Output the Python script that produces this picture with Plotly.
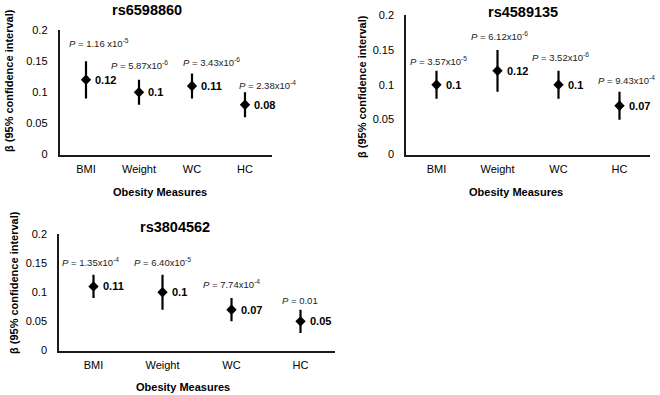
import plotly.graph_objects as go

# ---------------- data ----------------
categories = ["BMI", "Weight", "WC", "HC"]
snps = ["rs6598860", "rs4589135", "rs3804562"]

beta_rs6598860 = [0.12, 0.10, 0.11, 0.08]
lower_rs6598860 = [0.09, 0.08, 0.09, 0.06]
upper_rs6598860 = [0.15, 0.12, 0.13, 0.10]
p_rs6598860 = ["1.16 x10<sup>-5</sup>", "5.87x10<sup>-6</sup>", "3.43x10<sup>-6</sup>", "2.38x10<sup>-4</sup>"]

beta_rs4589135 = [0.10, 0.12, 0.10, 0.07]
lower_rs4589135 = [0.08, 0.09, 0.08, 0.05]
upper_rs4589135 = [0.12, 0.15, 0.12, 0.09]
p_rs4589135 = ["3.57x10<sup>-5</sup>", "6.12x10<sup>-6</sup>", "3.52x10<sup>-6</sup>", "9.43x10<sup>-4</sup>"]

beta_rs3804562 = [0.11, 0.10, 0.07, 0.05]
lower_rs3804562 = [0.09, 0.07, 0.05, 0.03]
upper_rs3804562 = [0.13, 0.13, 0.09, 0.07]
p_rs3804562 = ["1.35x10<sup>-4</sup>", "6.40x10<sup>-5</sup>", "7.74x10<sup>-4</sup>", "0.01"]

y_ticks = [0, 0.05, 0.1, 0.15, 0.2]

# ---------------- layout (positions / styles) ----------------
W, H = 660, 395
FONT = "Liberation Sans, Arial, sans-serif"

panels = [
    dict(snp=snps[0], beta=beta_rs6598860, lo=lower_rs6598860, hi=upper_rs6598860, p=p_rs6598860,
         xpx=(59.5, 271.5), ypx=(154.5, 30),
         ppos=[(0.25, 0.179), (1.0, 0.1435), (2.36, 0.148), (3.42, 0.111)],
         title=(147, 10), xtitle=(160, 192), ytitle=(9, 81)),
    dict(snp=snps[1], beta=beta_rs4589135, lo=lower_rs4589135, hi=upper_rs4589135, p=p_rs4589135,
         xpx=(406, 650), ypx=(154.5, 15),
         ppos=[(0.04, 0.134), (1.03, 0.170), (2.03, 0.140), (3.11, 0.107)],
         title=(523, 12), xtitle=(516, 192), ytitle=(362, 87)),
    dict(snp=snps[2], beta=beta_rs3804562, lo=lower_rs3804562, hi=upper_rs3804562, p=p_rs3804562,
         xpx=(59, 335), ypx=(350.5, 234),
         ppos=[(-0.04, 0.152), (1.0, 0.152), (2.0, 0.114), (2.99, 0.085)],
         title=(175, 227), xtitle=(183, 387), ytitle=(14, 283)),
]

fig = go.Figure()
annotations = []
layout_axes = {}

for i, pn in enumerate(panels):
    k = "" if i == 0 else str(i + 1)
    xa, ya = "x" + k, "y" + k
    err_plus = [h - b for h, b in zip(pn["hi"], pn["beta"])]
    err_minus = [b - l for b, l in zip(pn["beta"], pn["lo"])]
    fig.add_trace(go.Scatter(
        x=categories, y=pn["beta"], mode="markers",
        marker=dict(symbol="diamond", size=8, color="black"),
        error_y=dict(type="data", symmetric=False, array=err_plus, arrayminus=err_minus,
                     color="black", thickness=2.2, width=0),
        xaxis=xa, yaxis=ya, showlegend=False, cliponaxis=False,
    ))
    x0, x1 = pn["xpx"]
    yb, yt = pn["ypx"]
    axis_common = dict(showline=True, linecolor="#1a1a1a", linewidth=1.5, showgrid=False,
                       zeroline=False, ticks="", automargin=False,
                       tickfont=dict(family=FONT, size=11, color="black"))
    layout_axes["xaxis" + k] = dict(domain=[x0 / W, x1 / W], anchor=ya, type="category",
                                   categoryorder="array", categoryarray=categories,
                                   range=[-0.5, 3.5], ticklabelstandoff=4, **axis_common)
    layout_axes["yaxis" + k] = dict(domain=[1 - yb / H, 1 - yt / H], anchor=xa, range=[0, 0.2],
                                   tickvals=y_ticks, ticktext=[f"{v:g}" for v in y_ticks],
                                   ticklabelstandoff=8, **axis_common)
    # value labels
    for j, b in enumerate(pn["beta"]):
        annotations.append(dict(x=j, y=b, xref=xa, yref=ya, text=f"<b>{b:g}</b>",
                                showarrow=False, xanchor="left", yanchor="middle", xshift=7,
                                font=dict(family=FONT, size=11, color="black")))
    # P labels
    for (px, py), t in zip(pn["ppos"], pn["p"]):
        annotations.append(dict(x=px, y=py, xref=xa, yref=ya, text=f"<i>P</i> = {t}",
                                showarrow=False, xanchor="center", yanchor="middle",
                                font=dict(family=FONT, size=9.5, color="#222")))
    # titles
    tx, ty = pn["title"]
    annotations.append(dict(x=tx / W, y=1 - ty / H, xref="paper", yref="paper", text=f"<b>{pn['snp']}</b>",
                            showarrow=False, xanchor="center", yanchor="middle",
                            font=dict(family=FONT, size=14.5, color="black")))
    xtx, xty = pn["xtitle"]
    annotations.append(dict(x=xtx / W, y=1 - xty / H, xref="paper", yref="paper", text="<b>Obesity Measures</b>",
                            showarrow=False, xanchor="center", yanchor="middle",
                            font=dict(family=FONT, size=11, color="black")))
    ytx, yty = pn["ytitle"]
    annotations.append(dict(x=ytx / W, y=1 - yty / H, xref="paper", yref="paper",
                            text="<b>β (95% confidence interval)</b>", textangle=-90,
                            showarrow=False, xanchor="center", yanchor="middle",
                            font=dict(family=FONT, size=11, color="black")))

fig.update_layout(
    width=W, height=H, margin=dict(l=0, r=0, t=0, b=0, autoexpand=False),
    paper_bgcolor="white", plot_bgcolor="white",
    annotations=annotations, **layout_axes,
)

fig.write_html("out.html", config={"displayModeBar": False},
               post_script="document.body.style.margin='0';")
